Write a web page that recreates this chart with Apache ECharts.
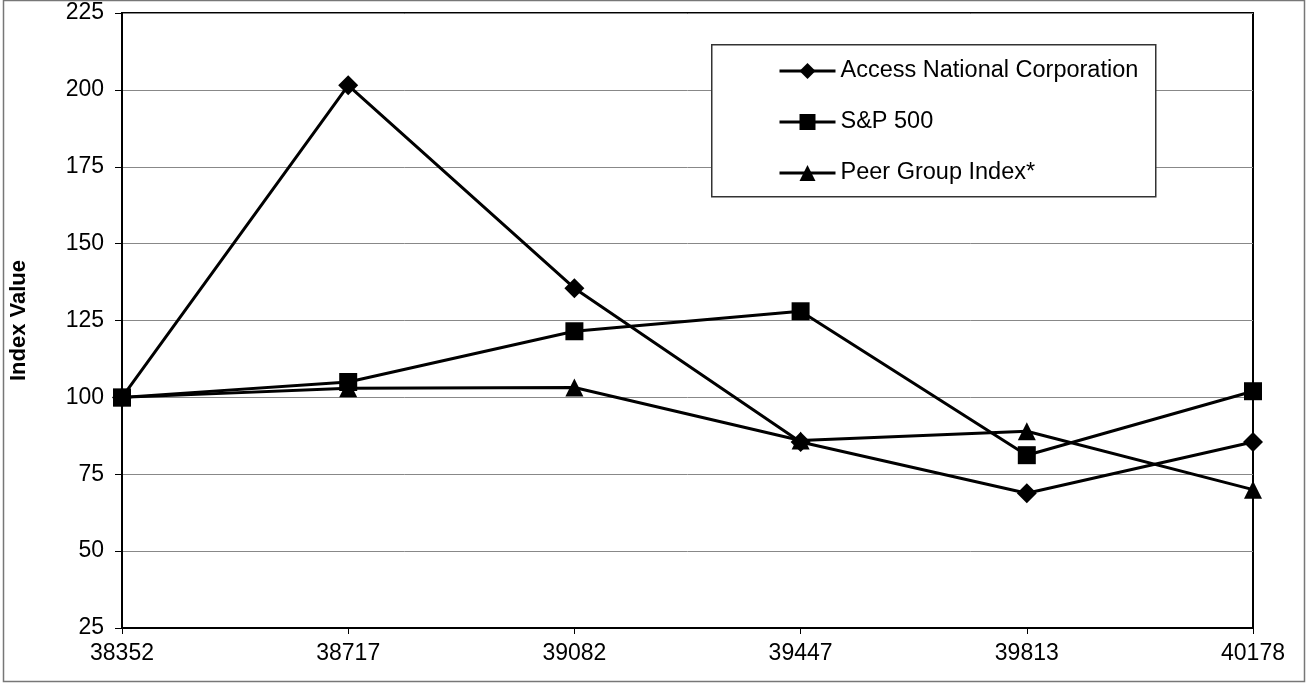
<!DOCTYPE html>
<html>
<head>
<meta charset="utf-8">
<title>Index Value</title>
<script src="https://cdn.jsdelivr.net/npm/echarts@6/dist/echarts.min.js"></script>
<style>
    html, body { margin: 0; padding: 0; background: #fff; }
    #chart { width: 1306px; height: 694px; }
</style>
</head>
<body>
<div id="chart"></div>
<script>
// x categories (Excel date serials as printed)
var categories = ['38352', '38717', '39082', '39447', '39813', '40178'];
var accessNational = [100, 201.5, 135.5, 85.5, 68.8, 85.5];
var sp500 = [100, 105, 121.5, 128, 81.2, 102];
var peerGroup = [100, 103, 103.2, 86, 89, 70];
var yMin = 25, yMax = 225, yStep = 25;

var chart = echarts.init(document.getElementById('chart'));

var font = 'Arial, "Liberation Sans", sans-serif';

function lineSeries(name, data, symbol, size) {
    return {
        name: name,
        type: 'line',
        data: data,
        symbol: symbol,
        symbolSize: size,
        showAllSymbol: true,
        lineStyle: { color: '#000', width: 3 },
        itemStyle: { color: '#000' },
        emphasis: { disabled: true },
        z: 3
    };
}

var option = {
    backgroundColor: '#fff',
    animation: false,
    textStyle: { fontFamily: font, color: '#000' },
    grid: {
        left: 122,
        right: 53,
        top: 13,
        bottom: 66,
        show: true,
        borderColor: '#000',
        borderWidth: 2,
        containLabel: false
    },
    legend: {
        orient: 'vertical',
        left: 778,
        top: 59,
        itemWidth: 56,
        itemHeight: 20,
        itemGap: 27,
        padding: 0,
        z: 20,
        lineStyle: { width: 3 },
        textStyle: { fontSize: 23.5, color: '#000', fontFamily: font },
        data: ['Access National Corporation', 'S&P 500', 'Peer Group Index*']
    },
    graphic: [
        {
            type: 'rect',
            left: 711,
            top: 44,
            shape: { width: 444, height: 152 },
            style: { fill: '#fff', stroke: '#333', lineWidth: 1.5 },
            z: 10
        },
        {
            type: 'rect',
            left: 1,
            top: -2,
            shape: { width: 1301, height: 681 },
            style: { fill: 'none', stroke: '#777', lineWidth: 1.5 },
            z: 0
        }
    ],
    xAxis: {
        type: 'category',
        boundaryGap: false,
        data: categories,
        axisLine: { lineStyle: { color: '#000', width: 2 } },
        axisTick: { show: true, length: 6, lineStyle: { color: '#000' } },
        axisLabel: { fontSize: 23, color: '#000', margin: 14 },
        splitLine: { show: false }
    },
    yAxis: {
        type: 'value',
        min: yMin,
        max: yMax,
        interval: yStep,
        name: 'Index Value',
        nameLocation: 'middle',
        nameGap: 92,
        nameTextStyle: { fontSize: 22, fontWeight: 'bold', color: '#000' },
        axisLine: { show: true, lineStyle: { color: '#000', width: 2 } },
        axisTick: { show: true, length: 7, lineStyle: { color: '#000' } },
        axisLabel: { fontSize: 23, color: '#000', margin: 18 },
        splitLine: { show: true, lineStyle: { color: '#888', width: 1 } }
    },
    series: [
        lineSeries('Access National Corporation', accessNational, 'diamond', 20),
        lineSeries('S&P 500', sp500, 'rect', 18),
        lineSeries('Peer Group Index*', peerGroup, 'triangle', 18)
    ]
};

chart.setOption(option);
</script>
</body>
</html>
